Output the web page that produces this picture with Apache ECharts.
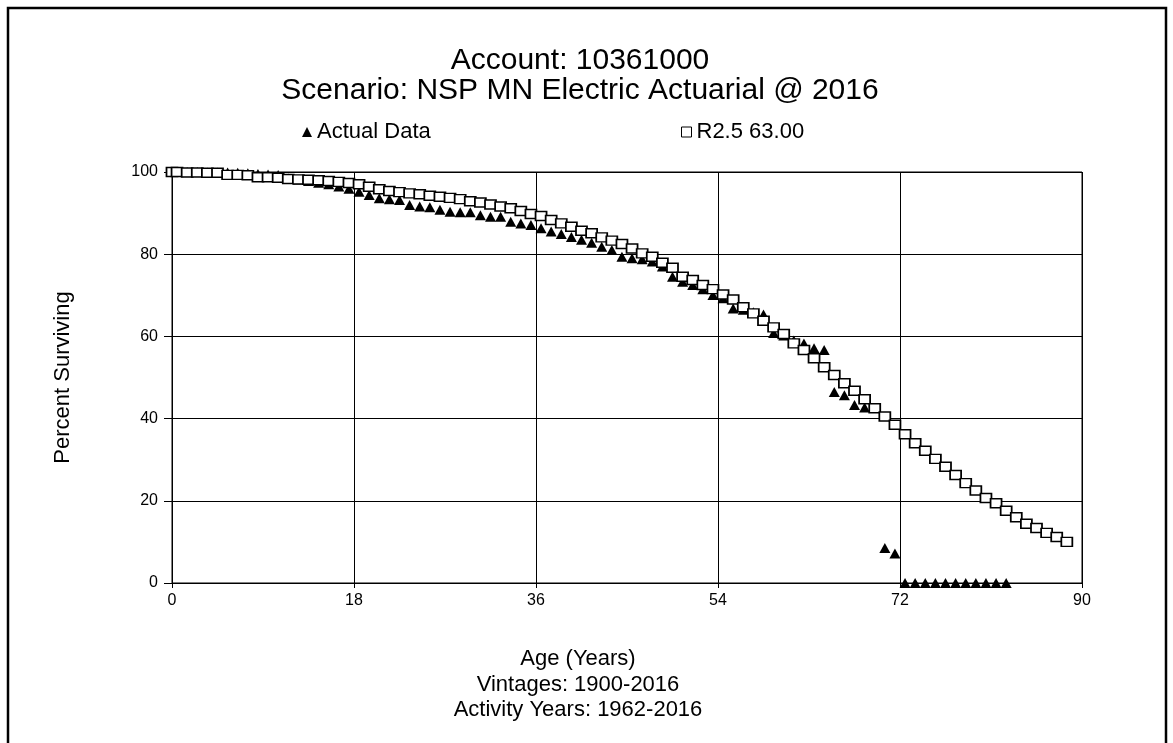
<!DOCTYPE html>
<html>
<head>
<meta charset="utf-8">
<script src="https://cdn.jsdelivr.net/npm/echarts@6/dist/echarts.min.js"></script>
<style>
  html, body { margin: 0; padding: 0; background: #fff; }
  #chart { width: 1173px; height: 743px; }
</style>
</head>
<body>
<div id="chart"></div>
<script>
// Observed survivor percentages (Actual Data)
const ageActual = [0, 0.5, 1.5, 2.5, 3.5, 4.5, 5.5, 6.5, 7.5, 8.5, 9.5, 10.5, 11.5, 12.5, 13.5, 14.5, 15.5, 16.5, 17.5, 18.5,
  19.5, 20.5, 21.5, 22.5, 23.5, 24.5, 25.5, 26.5, 27.5, 28.5, 29.5, 30.5, 31.5, 32.5, 33.5, 34.5, 35.5, 36.5, 37.5, 38.5,
  39.5, 40.5, 41.5, 42.5, 43.5, 44.5, 45.5, 46.5, 47.5, 48.5, 49.5, 50.5, 51.5, 52.5, 53.5, 54.5, 55.5, 56.5, 57.5, 58.5,
  59.5, 60.5, 61.5, 62.5, 63.5, 64.5, 65.5, 66.5, 67.5, 68.5, 69.5, 70.5, 71.5, 72.5, 73.5, 74.5, 75.5, 76.5, 77.5, 78.5,
  79.5, 80.5, 81.5, 82.5];
const pctActual = [100, 100, 100, 100, 99.9, 99.9, 99.9, 99.8, 99.7, 99.5, 99.4, 99.3, 98.4, 98.1, 97.8, 97.4, 97.0, 96.5, 95.9, 95.2,
  94.4, 93.6, 93.4, 93.2, 92.0, 91.6, 91.4, 90.8, 90.3, 90.2, 90.2, 89.5, 89.1, 89.1, 87.9, 87.5, 87.1, 86.3, 85.5, 84.9,
  84.2, 83.5, 82.8, 81.8, 81.0, 79.4, 79.0, 78.8, 78.2, 77.0, 74.5, 73.3, 72.5, 71.5, 70.1, 69.3, 66.8, 66.5, 65.9, 65.3,
  60.8, 60.2, 59.0, 58.3, 57.1, 56.7, 46.5, 45.7, 43.3, 42.7, 42.6, 8.5, 7.2, 0, 0, 0, 0, 0, 0, 0,
  0, 0, 0, 0];

// Iowa R2.5 curve, 63.00 year average life
const ageCurve = [0, 0.5, 1.5, 2.5, 3.5, 4.5, 5.5, 6.5, 7.5, 8.5, 9.5, 10.5, 11.5, 12.5, 13.5, 14.5, 15.5, 16.5, 17.5, 18.5,
  19.5, 20.5, 21.5, 22.5, 23.5, 24.5, 25.5, 26.5, 27.5, 28.5, 29.5, 30.5, 31.5, 32.5, 33.5, 34.5, 35.5, 36.5, 37.5, 38.5,
  39.5, 40.5, 41.5, 42.5, 43.5, 44.5, 45.5, 46.5, 47.5, 48.5, 49.5, 50.5, 51.5, 52.5, 53.5, 54.5, 55.5, 56.5, 57.5, 58.5,
  59.5, 60.5, 61.5, 62.5, 63.5, 64.5, 65.5, 66.5, 67.5, 68.5, 69.5, 70.5, 71.5, 72.5, 73.5, 74.5, 75.5, 76.5, 77.5, 78.5,
  79.5, 80.5, 81.5, 82.5, 83.5, 84.5, 85.5, 86.5, 87.5, 88.5];
const pctCurve = [100, 100, 99.9, 99.9, 99.8, 99.8, 99.3, 99.3, 99.2, 98.7, 98.7, 98.6, 98.3, 98.2, 98.1, 98.0, 97.8, 97.6, 97.3, 97.0,
  96.4, 95.8, 95.4, 95.1, 94.8, 94.6, 94.2, 94.0, 93.7, 93.4, 92.9, 92.6, 92.1, 91.6, 91.2, 90.5, 89.8, 89.3, 88.3, 87.5,
  86.7, 85.7, 85.1, 84.1, 83.3, 82.5, 81.4, 80.2, 79.4, 77.9, 76.7, 74.5, 73.7, 72.5, 71.5, 70.2, 69.0, 67.1, 65.6, 63.8,
  62.2, 60.6, 58.3, 56.7, 54.7, 52.5, 50.6, 48.6, 46.8, 44.7, 42.5, 40.5, 38.5, 36.2, 34.0, 32.2, 30.2, 28.3, 26.3, 24.3,
  22.5, 20.7, 19.4, 17.6, 16.0, 14.4, 13.4, 12.2, 11.2, 10.0];

const xTicks = [0, 18, 36, 54, 72, 90];
const yTicks = [0, 20, 40, 60, 80, 100];

const titleLines = ['Account: 10361000', 'Scenario: NSP MN Electric Actuarial @ 2016'];
const footLines = ['Age (Years)', 'Vintages: 1900-2016', 'Activity Years: 1962-2016'];
const seriesNames = ['Actual Data', 'R2.5 63.00'];

const FONT = "'Liberation Sans', Arial, sans-serif";

const pair = (xs, ys) => xs.map((x, i) => [x, ys[i]]);

const textLine = (text, cx, top, size) => ({
  text, left: cx, top, textAlign: 'center',
  textStyle: { fontFamily: FONT, fontSize: size, fontWeight: 'normal', color: '#000' }
});

const chart = echarts.init(document.getElementById('chart'), null, { renderer: 'canvas' });

const option = {
  backgroundColor: '#fff',
  animation: false,
  title: [
    textLine(titleLines[0], 575, 41, 30),
    textLine(titleLines[1], 575, 71, 30),
    textLine(footLines[0], 573, 643, 22),
    textLine(footLines[1], 573, 669, 22),
    textLine(footLines[2], 573, 694, 22)
  ],
  legend: [
    { data: [{ name: seriesNames[0], icon: 'triangle' }], left: 297, top: 116, itemWidth: 10, itemHeight: 10, itemGap: 6,
      textStyle: { fontFamily: FONT, fontSize: 22, color: '#000' } },
    { data: [{ name: seriesNames[1], icon: 'rect', itemStyle: { color: '#fff', borderColor: '#000', borderWidth: 1 } }],
      left: 676, top: 116, itemWidth: 10, itemHeight: 10, itemGap: 6,
      textStyle: { fontFamily: FONT, fontSize: 22, color: '#000' } }
  ],
  grid: { left: 172, right: 91, top: 172, bottom: 160, show: true, borderColor: '#000', borderWidth: 1, backgroundColor: '#fff' },
  xAxis: {
    type: 'value', min: xTicks[0], max: xTicks[xTicks.length - 1], interval: xTicks[1] - xTicks[0],
    axisLine: { lineStyle: { color: '#000', width: 1 } },
    axisTick: { show: true, length: 5, lineStyle: { color: '#000' } },
    axisLabel: { fontFamily: FONT, fontSize: 16, color: '#000', margin: 10 },
    splitLine: { show: true, lineStyle: { color: '#000', width: 1 } }
  },
  yAxis: {
    type: 'value', min: yTicks[0], max: yTicks[yTicks.length - 1], interval: yTicks[1] - yTicks[0],
    name: 'Percent Surviving', nameLocation: 'middle', nameGap: 98, nameRotate: 90,
    nameTextStyle: { fontFamily: FONT, fontSize: 22, color: '#000' },
    axisLine: { show: true, lineStyle: { color: '#000', width: 1 } },
    axisTick: { show: true, length: 8, lineStyle: { color: '#000' } },
    axisLabel: { fontFamily: FONT, fontSize: 16, color: '#000', margin: 14 },
    splitLine: { show: true, lineStyle: { color: '#000', width: 1 } }
  },
  series: [
    {
      name: seriesNames[0], type: 'scatter', symbol: 'triangle', symbolSize: [11, 10],
      itemStyle: { color: '#000', opacity: 1 },
      data: pair(ageActual, pctActual), z: 2
    },
    {
      name: seriesNames[1], type: 'scatter', symbol: 'rect', symbolSize: [11, 9],
      itemStyle: { color: '#fff', borderColor: '#000', borderWidth: 1.6, opacity: 1 },
      data: pair(ageCurve, pctCurve), z: 3
    }
  ],
  graphic: [
    { type: 'rect', shape: { x: 8, y: 8, width: 1158, height: 800 }, silent: true, z: 100,
      style: { fill: 'none', stroke: '#000', lineWidth: 2.5 } }
  ]
};

chart.setOption(option);
</script>
</body>
</html>
